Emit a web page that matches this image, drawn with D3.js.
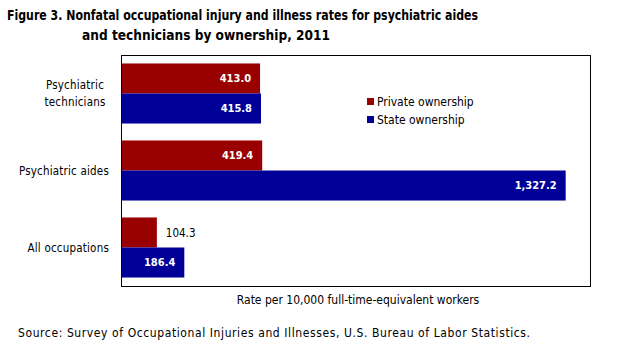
<!DOCTYPE html>
<html lang="en">
<head>
<meta charset="UTF-8">
<title>Figure 3. Nonfatal occupational injury and illness rates</title>
<script src="https://d3js.org/d3.v7.min.js"></script>
<style>
    body { margin: 0; background: #fff; }
    svg { display: block; font-family: "DejaVu Sans Condensed", "Liberation Sans", sans-serif; }
    .title { font-size: 14.5px; font-weight: bold; }
    .cat { font-size: 11.5px; letter-spacing: 0.2px; }
    .val { font-size: 11px; font-weight: bold; fill: #fff; }
    .val.out { font-size: 11.5px; font-weight: normal; fill: #000; }
    .legend text { font-size: 12px; }
    .note { font-size: 12px; }
</style>
</head>
<body>
<svg id="chart" width="621" height="351"></svg>
<script>
    // data
    const categories = ["Psychiatric technicians", "Psychiatric aides", "All occupations"];
    const seriesNames = ["Private ownership", "State ownership"];
    const privateValues = [413.0, 419.4, 104.3];
    const stateValues = [415.8, 1327.2, 186.4];
    const colors = ["#990000", "#000099"];

    const rows = categories.map((c, i) => ({ cat: c, values: [privateValues[i], stateValues[i]] }));

    const svg = d3.select("#chart");
    const box = { left: 121, right: 590, top: 55, bottom: 286 };

    // title, two lines (squeezed to the width of the original's narrow face)
    svg.append("text").attr("class", "title").attr("x", 7).attr("y", 20)
        .attr("textLength", 471).attr("lengthAdjust", "spacingAndGlyphs")
        .text("Figure 3. Nonfatal occupational injury and illness rates for psychiatric aides");
    svg.append("text").attr("class", "title").attr("x", 82).attr("y", 40)
        .attr("textLength", 248).attr("lengthAdjust", "spacingAndGlyphs")
        .text("and technicians by ownership, 2011");

    const x = d3.scaleLinear().domain([0, 1400]).range([box.left + 1, box.right]);
    const y = d3.scaleBand().domain(categories).range([box.top, box.bottom])
        .paddingInner(0.22).paddingOuter(0.11);
    const ySub = d3.scaleBand().domain([0, 1]).range([0, y.bandwidth()]);

    // frame
    svg.append("rect")
        .attr("x", box.left + 0.5).attr("y", box.top + 0.5)
        .attr("width", box.right - box.left).attr("height", box.bottom - box.top)
        .attr("fill", "none").attr("stroke", "#000").attr("stroke-width", 1);

    const groups = svg.selectAll(".grp").data(rows).enter().append("g")
        .attr("class", "grp")
        .attr("transform", d => `translate(0,${y(d.cat)})`);

    const bars = groups.selectAll("g.bar").data(d => d.values.map((v, k) => ({ v, k })))
        .enter().append("g").attr("class", "bar");

    bars.append("rect")
        .attr("x", x(0))
        .attr("y", d => ySub(d.k))
        .attr("width", d => x(d.v) - x(0))
        .attr("height", ySub.bandwidth())
        .attr("fill", d => colors[d.k]);

    // short bars get their label outside in black
    const fmt = d3.format(",.1f");
    const isShort = d => x(d.v) - x(0) < 45;
    bars.append("text")
        .attr("class", d => (isShort(d) ? "val out" : "val"))
        .attr("x", d => (isShort(d) ? x(d.v) + 9 : x(d.v) - 9))
        .attr("y", d => ySub(d.k) + ySub.bandwidth() / 2)
        .attr("dy", "0.35em")
        .attr("text-anchor", d => (isShort(d) ? "start" : "end"))
        .text(d => fmt(d.v));

    // category labels
    groups.each(function(d) {
        const words = d.cat === "Psychiatric technicians" ? ["Psychiatric", "technicians"] : [d.cat];
        const t = d3.select(this).append("text").attr("class", "cat")
            .attr("text-anchor", words.length > 1 ? "middle" : "end");
        const cx = words.length > 1 ? 75 : 109;
        words.forEach((w, i) => {
            t.append("tspan").attr("x", cx)
                .attr("y", y.bandwidth() / 2 + (i - (words.length - 1) / 2) * 17)
                .attr("dy", "0.35em").text(w);
        });
    });

    // legend
    const legend = svg.append("g").attr("class", "legend");
    seriesNames.forEach((s, i) => {
        const ly = 102 + i * 18;
        legend.append("rect").attr("x", 367).attr("y", ly - 4).attr("width", 7).attr("height", 7)
            .attr("fill", colors[i]);
        legend.append("text").attr("x", 377).attr("y", ly).attr("dy", "0.35em").text(s);
    });

    svg.append("text").attr("class", "note").attr("x", 358).attr("y", 304)
        .attr("text-anchor", "middle").text("Rate per 10,000 full-time-equivalent workers");
    svg.append("text").attr("class", "note").attr("x", 18).attr("y", 337)
        .attr("textLength", 512).attr("lengthAdjust", "spacing")
        .text("Source: Survey of Occupational Injuries and Illnesses, U.S. Bureau of Labor Statistics.");
</script>
</body>
</html>
